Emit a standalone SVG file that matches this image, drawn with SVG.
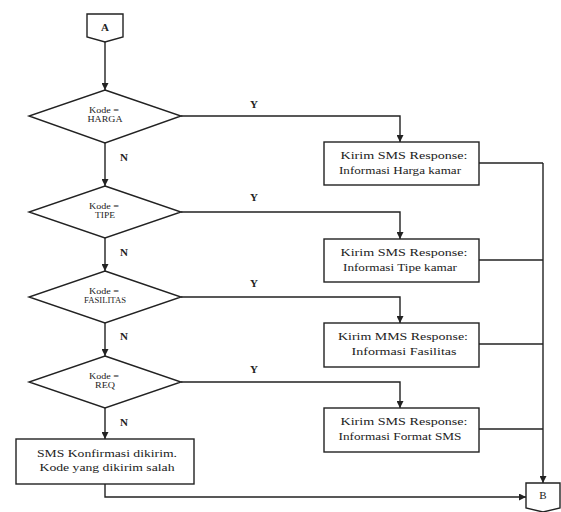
<svg xmlns="http://www.w3.org/2000/svg" width="561" height="512" viewBox="0 0 561 512">
<style>
.s{fill:#fff;stroke:#222;stroke-width:1.4}
.c{fill:none;stroke:#222;stroke-width:1.4}
.t{font-family:"Liberation Serif","Times New Roman",serif;font-size:11px;fill:#222;text-anchor:middle}
.d{font-family:"Liberation Serif","Times New Roman",serif;font-size:8px;fill:#222;text-anchor:middle}
.l{font-family:"Liberation Serif","Times New Roman",serif;font-size:11px;font-weight:bold;fill:#222}
</style>
<defs>
<marker id="ar" viewBox="0 0 10 10" refX="10" refY="5" markerWidth="7" markerHeight="7" markerUnits="userSpaceOnUse" orient="auto">
<path d="M0,0 L10,5 L0,10 z" fill="#222"/>
</marker>
</defs>
<g id="connectors">
<path class="c" d="M105,42 V90" marker-end="url(#ar)"/>
<path class="c" d="M105,143 V186" marker-end="url(#ar)"/>
<path class="c" d="M105,238 V271" marker-end="url(#ar)"/>
<path class="c" d="M105,323 V356" marker-end="url(#ar)"/>
<path class="c" d="M105,408 V439" marker-end="url(#ar)"/>
<path class="c" d="M181,116 H400 V142" marker-end="url(#ar)"/>
<path class="c" d="M181,212 H400 V239" marker-end="url(#ar)"/>
<path class="c" d="M181,297 H400 V323" marker-end="url(#ar)"/>
<path class="c" d="M181,382 H400 V408" marker-end="url(#ar)"/>
<path class="c" d="M479,163 H543"/>
<path class="c" d="M479,260 H543"/>
<path class="c" d="M479,344 H543"/>
<path class="c" d="M479,429 H543"/>
<path class="c" d="M543,163 V483" marker-end="url(#ar)"/>
<path class="c" d="M105,484 V497 H526" marker-end="url(#ar)"/>
<text class="l" x="250" y="108">Y</text>
<text class="l" x="250" y="201">Y</text>
<text class="l" x="250" y="287">Y</text>
<text class="l" x="250" y="373">Y</text>
<text class="l" x="120" y="161">N</text>
<text class="l" x="120" y="256">N</text>
<text class="l" x="120" y="340">N</text>
<text class="l" x="120" y="426">N</text>
</g>
<g id="A">
<path class="s" d="M87,14 H123 V37 L105,42 L87,37 Z"/>
<text class="t" x="105" y="31" font-weight="bold">A</text>
</g>
<g id="d1">
<path class="s" d="M105,90 L181,116 L105,143 L29,116 Z"/>
<text class="d" x="104" y="113" textLength="30" lengthAdjust="spacingAndGlyphs">Kode =</text>
<text class="d" x="105" y="122" textLength="35" lengthAdjust="spacingAndGlyphs">HARGA</text>
</g>
<g id="d2">
<path class="s" d="M105,186 L181,212 L105,238 L29,212 Z"/>
<text class="d" x="104" y="209" textLength="30" lengthAdjust="spacingAndGlyphs">Kode =</text>
<text class="d" x="105" y="218" textLength="20" lengthAdjust="spacingAndGlyphs">TIPE</text>
</g>
<g id="d3">
<path class="s" d="M105,271 L181,297 L105,323 L29,297 Z"/>
<text class="d" x="104" y="294" textLength="30" lengthAdjust="spacingAndGlyphs">Kode =</text>
<text class="d" x="105" y="303" textLength="42" lengthAdjust="spacingAndGlyphs">FASILITAS</text>
</g>
<g id="d4">
<path class="s" d="M105,356 L181,382 L105,408 L29,382 Z"/>
<text class="d" x="104" y="379" textLength="30" lengthAdjust="spacingAndGlyphs">Kode =</text>
<text class="d" x="105" y="388" textLength="20" lengthAdjust="spacingAndGlyphs">REQ</text>
</g>
<g id="b1">
<rect class="s" x="324" y="142" width="155" height="43"/>
<text class="t" x="404" y="159" textLength="127" lengthAdjust="spacingAndGlyphs">Kirim SMS Response:</text>
<text class="t" x="400" y="174" textLength="122" lengthAdjust="spacingAndGlyphs">Informasi Harga kamar</text>
</g>
<g id="b2">
<rect class="s" x="324" y="239" width="155" height="43"/>
<text class="t" x="404" y="256" textLength="127" lengthAdjust="spacingAndGlyphs">Kirim SMS Response:</text>
<text class="t" x="400" y="271" textLength="114" lengthAdjust="spacingAndGlyphs">Informasi Tipe kamar</text>
</g>
<g id="b3">
<rect class="s" x="324" y="323" width="155" height="44"/>
<text class="t" x="403" y="340" textLength="130" lengthAdjust="spacingAndGlyphs">Kirim MMS Response:</text>
<text class="t" x="404" y="355" textLength="105" lengthAdjust="spacingAndGlyphs">Informasi Fasilitas</text>
</g>
<g id="b4">
<rect class="s" x="324" y="408" width="155" height="44"/>
<text class="t" x="404" y="425" textLength="127" lengthAdjust="spacingAndGlyphs">Kirim SMS Response:</text>
<text class="t" x="400" y="440" textLength="123" lengthAdjust="spacingAndGlyphs">Informasi Format SMS</text>
</g>
<g id="b5">
<rect class="s" x="16" y="439" width="178" height="45"/>
<text class="t" x="107" y="457" textLength="140" lengthAdjust="spacingAndGlyphs">SMS Konfirmasi dikirim.</text>
<text class="t" x="107" y="471" textLength="135" lengthAdjust="spacingAndGlyphs">Kode yang dikirim salah</text>
</g>
<g id="B">
<path class="s" d="M526,483 H560 V508 L543,512 L526,508 Z"/>
<text class="t" x="543" y="499">B</text>
</g>
</svg>
